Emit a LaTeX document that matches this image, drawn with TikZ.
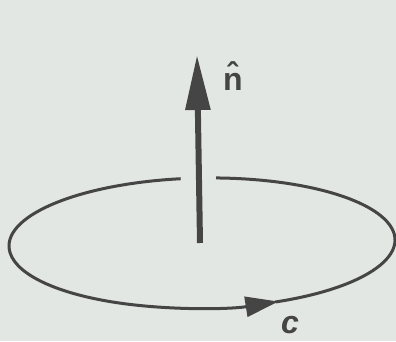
\documentclass[tikz,border=0pt]{standalone}
\usepackage{fontspec}
\setmainfont{Liberation Sans}
\usetikzlibrary{arrows.meta}
\definecolor{bgc}{HTML}{E3E7E3}
\definecolor{ink}{HTML}{454545}
\tikzset{
  loopline/.style={draw=ink, line width=3pt},
  normalarrow/.style={draw=ink, line width=6pt, -{Triangle[length=55pt,width=24pt]}},
  looparrow/.style={draw=ink, line width=3pt, -{Triangle[length=33pt,width=20pt]}},
  lbl/.style={text=ink, font=\fontsize{32}{32}\selectfont\bfseries, inner sep=1pt}
}
\begin{document}
\begin{tikzpicture}[x=1pt,y=1pt]
  \fill[bgc] (0,0) rectangle (396,341);
  \useasboundingbox (0,0) rectangle (396,341);
  \coordinate (ctr) at (202,98);
  \begin{scope}[rotate around={1:(ctr)}]
    \draw[looparrow] ([shift={(96:193 and 65)}]ctr) arc[start angle=96, end angle=293, x radius=193, y radius=65];
    \draw[loopline] ([shift={(292:193 and 65)}]ctr) arc[start angle=292, end angle=445.5, x radius=193, y radius=65];
  \end{scope}
  \coordinate (base) at (200,98);
  \coordinate (tip) at (197,286);
  \draw[normalarrow] (base) -- (tip);
  \node[lbl] (nhat) at (233,265) {\^n};
  \node[lbl] (cl) at (290,16) {\itshape c};
\end{tikzpicture}
\end{document}
